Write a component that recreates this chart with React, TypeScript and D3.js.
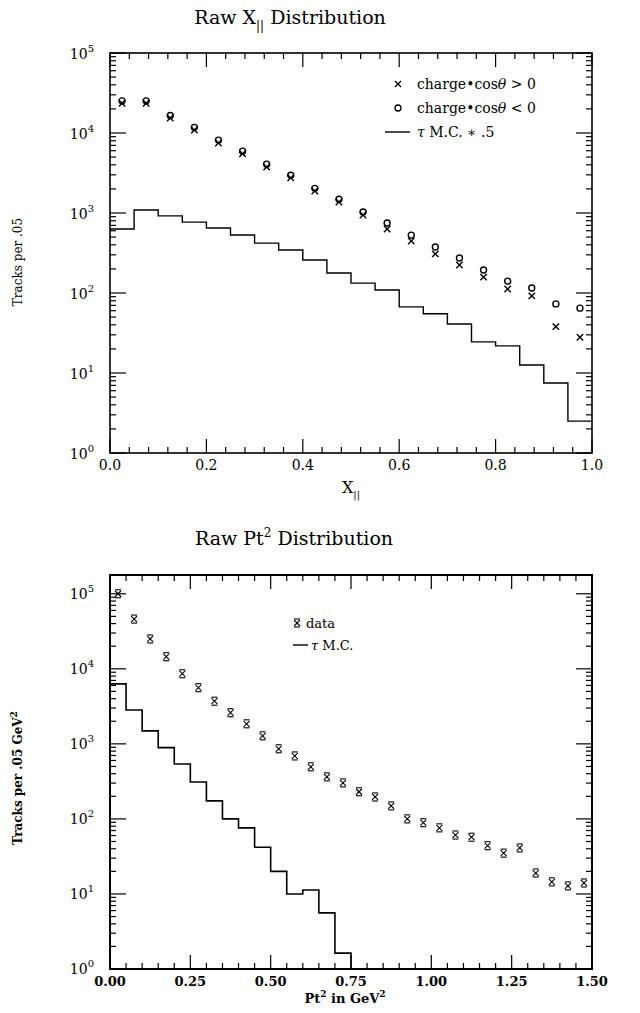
import React from "react";
import * as d3 from "d3";

// ---------- Top chart data (Raw X|| distribution) ----------
const xBinsTop = [0.025, 0.075, 0.125, 0.175, 0.225, 0.275, 0.325, 0.375, 0.425, 0.475,
  0.525, 0.575, 0.625, 0.675, 0.725, 0.775, 0.825, 0.875, 0.925, 0.975];
const chargePos = [23500, 23500, 15400, 10900, 7500, 5500, 3750, 2750, 1880, 1370,
  945, 630, 447, 308, 224, 158, 112, 92, 38, 28];
const chargeNeg = [23800, 23800, 15600, 11100, 7700, 5600, 3850, 2800, 1920, 1400,
  970, 708, 500, 355, 258, 183, 133, 109, 69, 61];
const mcEdgesTop = [0, 0.05, 0.1, 0.15, 0.2, 0.25, 0.3, 0.35, 0.4, 0.45, 0.5,
  0.55, 0.6, 0.65, 0.7, 0.75, 0.8, 0.85, 0.9, 0.95, 1.0];
const mcTop = [630, 1090, 920, 770, 650, 530, 420, 345, 258, 178, 133,
  109, 67, 55, 41, 24.5, 21.8, 12.6, 7.5, 2.5];
const xTicksTop = ["0.0", "0.2", "0.4", "0.6", "0.8", "1.0"];

// ---------- Bottom chart data (Raw Pt^2 distribution) ----------
const xBinsBot = [0.025, 0.075, 0.125, 0.175, 0.225, 0.275, 0.325, 0.375, 0.425, 0.475,
  0.525, 0.575, 0.625, 0.675, 0.725, 0.775, 0.825, 0.875, 0.925, 0.975,
  1.025, 1.075, 1.125, 1.175, 1.225, 1.275, 1.325, 1.375, 1.425, 1.475];
const ptData = [100000, 46000, 25000, 14500, 8600, 5600, 3700, 2600, 1850, 1280,
  860, 690, 495, 363, 302, 230, 196, 149, 100, 89,
  76, 61, 57, 44, 35, 41, 19, 14.5, 12.8, 14];
const mcEdgesBot = [0, 0.05, 0.1, 0.15, 0.2, 0.25, 0.3, 0.35, 0.4, 0.45, 0.5,
  0.55, 0.6, 0.65, 0.7, 0.75];
const mcBot = [6300, 2830, 1490, 890, 540, 310, 174, 100, 76, 42, 20, 10, 11.3, 5.6, 1.63];
const xTicksBot = ["0.00", "0.25", "0.50", "0.75", "1.00", "1.25", "1.50"];

const decades = [0, 1, 2, 3, 4, 5];

const FONT = "'DejaVu Serif', serif";

function LogTicks({ y, x0, x1, maxExp, major, minor }: any) {
  const els: any[] = [];
  for (let e = 0; e <= 5; e++) {
    for (let m = 1; m <= 9; m++) {
      const v = m * Math.pow(10, e);
      if (Math.log10(v) > maxExp + 1e-9) continue;
      const yy = y(v);
      const len = m === 1 ? major : minor;
      els.push(<line key={`l${e}${m}`} x1={x0} x2={x0 + len} y1={yy} y2={yy} />);
      els.push(<line key={`r${e}${m}`} x1={x1} x2={x1 - len} y1={yy} y2={yy} />);
    }
  }
  return <g stroke="#000" strokeWidth={1.2}>{els}</g>;
}

function LinTicks({ x, y0, y1, max, step, every, major, minor }: any) {
  const els: any[] = [];
  const n = Math.round(max / step);
  for (let i = 0; i <= n; i++) {
    const v = i * step;
    const xx = x(v);
    const len = i % every === 0 ? major : minor;
    els.push(<line key={`b${i}`} x1={xx} x2={xx} y1={y0} y2={y0 - len} />);
    els.push(<line key={`t${i}`} x1={xx} x2={xx} y1={y1} y2={y1 + len} />);
  }
  return <g stroke="#000" strokeWidth={1.2}>{els}</g>;
}

function stepPath(edges: number[], vals: number[], x: any, y: any, dropToBottom: boolean, yBottom: number) {
  const pts: [number, number][] = [];
  vals.forEach((v, i) => {
    pts.push([x(edges[i]), y(v)]);
    pts.push([x(edges[i + 1]), y(v)]);
  });
  if (dropToBottom) pts.push([x(edges[edges.length - 1]), yBottom]);
  return d3.line()(pts) || "";
}

export default function App() {
  // top chart scales
  const xT = d3.scaleLinear().domain([0, 1]).range([110, 592]);
  const yT = d3.scaleLog().domain([1, 1e5]).range([453, 53]);
  // bottom chart scales
  const xB = d3.scaleLinear().domain([0, 1.5]).range([110, 592]);
  const yB = d3.scaleLog().domain([1, Math.pow(10, 5.25)]).range([969, 575]);

  const topMajor = [0, 0.2, 0.4, 0.6, 0.8, 1.0];
  const botMajor = [0, 0.25, 0.5, 0.75, 1.0, 1.25, 1.5];

  return (
    <svg width={640} height={1013} style={{ display: "block", position: "absolute", left: 0, top: 0 }}
      fontFamily={FONT} fill="#000">
      <rect x={0} y={0} width={640} height={1013} fill="#fff" />

      {/* ================= TOP CHART ================= */}
      <text x={290} y={24} fontSize={19} textAnchor="middle" fill="#000">
        Raw X<tspan fontSize={12} dy={6} fill="#000">||</tspan><tspan dy={-6} fill="#000"> Distribution</tspan>
      </text>
      <rect x={110} y={53} width={482} height={400} fill="none" stroke="#000" strokeWidth={1.6} />
      <LogTicks y={yT} x0={110} x1={592} maxExp={5} major={16} minor={6} />
      <LinTicks x={xT} y0={453} y1={53} max={1} step={0.04} every={5} major={14} minor={6} />
      {decades.map((e) => (
        <text key={e} x={94} y={yT(Math.pow(10, e)) + 6} fontSize={14} textAnchor="end" fill="#000">
          10<tspan fontSize={10} dy={-7}>{e}</tspan>
        </text>
      ))}
      {topMajor.map((v, i) => (
        <text key={i} x={xT(v)} y={470} fontSize={14} textAnchor="middle" fill="#000">{xTicksTop[i]}</text>
      ))}
      <text x={351} y={493} fontSize={16} textAnchor="middle" fill="#000">
        X<tspan fontSize={10} dy={5} fill="#000">||</tspan>
      </text>
      <text transform="translate(22,262) rotate(-90)" fontSize={12} textAnchor="middle" fill="#000">Tracks per .05</text>

      <path d={stepPath(mcEdgesTop, mcTop, xT, yT, false, 453)} fill="none" stroke="#000" strokeWidth={1.4} />
      {xBinsTop.map((b, i) => {
        const cx = xT(b), cy = yT(chargePos[i]);
        const s = 3.2;
        return (
          <g key={`p${i}`} stroke="#000" strokeWidth={1.4}>
            <line x1={cx - s} x2={cx + s} y1={cy - s} y2={cy + s} />
            <line x1={cx - s} x2={cx + s} y1={cy + s} y2={cy - s} />
          </g>
        );
      })}
      {xBinsTop.map((b, i) => (
        <circle key={`n${i}`} cx={xT(b)} cy={yT(chargeNeg[i]) - 2} r={3} fill="none" stroke="#000" strokeWidth={1.4} />
      ))}
      {/* legend */}
      <g stroke="#000" strokeWidth={1.3}>
        <line x1={395} x2={401} y1={81} y2={87} />
        <line x1={395} x2={401} y1={87} y2={81} />
      </g>
      <text x={417} y={89} fontSize={14} fill="#000">charge•cos<tspan fontStyle="italic">θ</tspan> &gt; 0</text>
      <circle cx={398} cy={108} r={3} fill="none" stroke="#000" strokeWidth={1.3} />
      <text x={417} y={113} fontSize={14} fill="#000">charge•cos<tspan fontStyle="italic">θ</tspan> &lt; 0</text>
      <line x1={385} x2={410} y1={132} y2={132} stroke="#000" strokeWidth={1.4} />
      <text x={417} y={137} fontSize={14} fill="#000"><tspan fontStyle="italic">τ</tspan> M.C. ∗ .5</text>

      {/* ================= BOTTOM CHART ================= */}
      <text x={294} y={545} fontSize={19} textAnchor="middle" fill="#000">
        Raw Pt<tspan fontSize={12} dy={-8}>2</tspan><tspan dy={8}> Distribution</tspan>
      </text>
      <rect x={110} y={575} width={482} height={394} fill="none" stroke="#000" strokeWidth={2} />
      <LogTicks y={yB} x0={110} x1={592} maxExp={5.25} major={16} minor={6} />
      <LinTicks x={xB} y0={969} y1={575} max={1.5} step={0.05} every={5} major={14} minor={6} />
      {decades.map((e) => (
        <text key={e} x={94} y={yB(Math.pow(10, e)) + 5} fontSize={14} textAnchor="end" fill="#000">
          10<tspan fontSize={10} dy={-7}>{e}</tspan>
        </text>
      ))}
      {botMajor.map((v, i) => (
        <text key={i} x={xB(v)} y={986} fontSize={13} fontWeight="bold" textAnchor="middle" fill="#000">{xTicksBot[i]}</text>
      ))}
      <text x={345} y={1003} fontSize={13} fontWeight="bold" textAnchor="middle" fill="#000">
        Pt<tspan fontSize={9} dy={-6}>2</tspan><tspan dy={6}> in GeV</tspan><tspan fontSize={9} dy={-6}>2</tspan>
      </text>
      <text transform="translate(22,778) rotate(-90)" fontSize={12} fontWeight="bold" textAnchor="middle" fill="#000">
        Tracks per .05 GeV<tspan fontSize={9} dy={-5}>2</tspan>
      </text>

      <path d={stepPath(mcEdgesBot, mcBot, xB, yB, true, 969)} fill="none" stroke="#000" strokeWidth={1.6} />
      {xBinsBot.map((b, i) => {
        const cx = xB(b), cy = yB(ptData[i]);
        return (
          <g key={`d${i}`} stroke="#000" strokeWidth={1.1}>
            <line x1={cx - 3} x2={cx + 3} y1={cy - 3} y2={cy + 3} />
            <line x1={cx - 3} x2={cx + 3} y1={cy + 3} y2={cy - 3} />
            <line x1={cx - 3} x2={cx + 3} y1={cy - 4} y2={cy - 4} />
            <line x1={cx - 3} x2={cx + 3} y1={cy + 4} y2={cy + 4} />
          </g>
        );
      })}
      {/* legend */}
      <g stroke="#000" strokeWidth={1.1}>
        <line x1={294} x2={300} y1={620} y2={626} />
        <line x1={294} x2={300} y1={626} y2={620} />
        <line x1={294} x2={300} y1={619} y2={619} />
        <line x1={294} x2={300} y1={627} y2={627} />
      </g>
      <text x={306} y={628} fontSize={13} fill="#000">data</text>
      <line x1={293} x2={308} y1={645} y2={645} stroke="#000" strokeWidth={1.4} />
      <text x={311} y={650} fontSize={13} fill="#000"><tspan fontStyle="italic">τ</tspan> M.C.</text>
    </svg>
  );
}
